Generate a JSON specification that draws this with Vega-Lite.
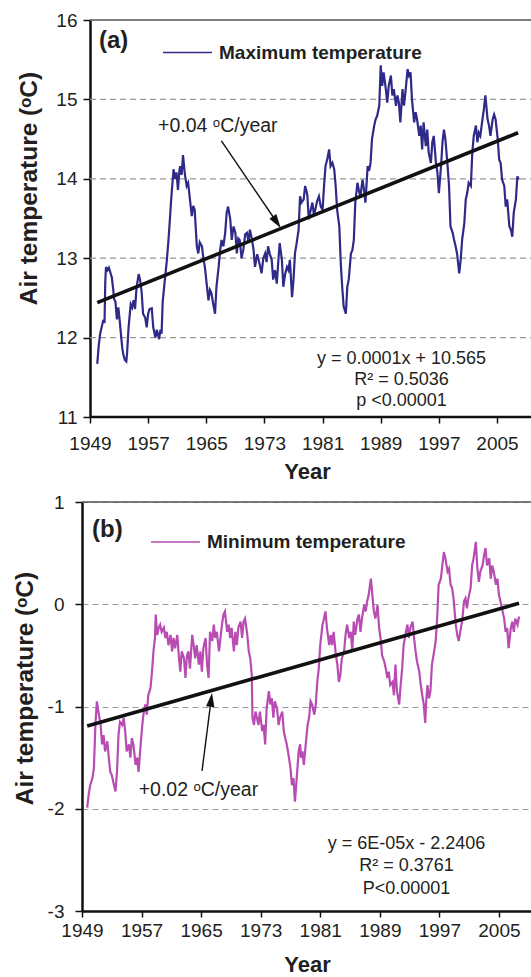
{
  "$schema": "https://vega.github.io/schema/vega-lite/v6.json",
  "background": "white",
  "padding": {"left": 12, "top": 11, "right": 0, "bottom": 0},
  "columns": 1,
  "spacing": 11,
  "resolve": {"scale": {"color": "independent"}, "legend": {"color": "independent"}},
  "config": {
    "font": "Liberation Sans",
    "view": {"stroke": null},
    "axis": {
      "domainColor": "#111111",
      "domainWidth": 2.5,
      "tickColor": "#111111",
      "tickWidth": 1.5,
      "labelFont": "Liberation Sans",
      "labelFontSize": 19,
      "labelColor": "#231f20",
      "labelOverlap": false,
      "labelFlush": false,
      "titleFont": "Liberation Sans",
      "titleFontWeight": "bold",
      "titleColor": "#231f20",
      "gridColor": "#9a9a9a",
      "gridDash": [6, 4],
      "gridWidth": 1.2
    },
    "axisX": {"grid": false},
    "legend": {
      "orient": "none",
      "title": null,
      "padding": 0,
      "symbolType": "stroke",
      "symbolSize": 2401,
      "symbolStrokeWidth": 1.6,
      "labelFont": "Liberation Sans",
      "labelFontSize": 19,
      "labelFontWeight": "bold",
      "labelColor": "#231f20",
      "labelLimit": 400,
      "labelOffset": 6
    }
  },
  "datasets": {
    "tmax": [
      {"year": 1950.0, "temp": 11.67}, {"year": 1950.2, "temp": 11.9}, {"year": 1950.4, "temp": 12.05}, {"year": 1950.6, "temp": 12.13},
      {"year": 1950.8, "temp": 12.21}, {"year": 1951.0, "temp": 12.2}, {"year": 1951.1, "temp": 12.7}, {"year": 1951.2, "temp": 12.89},
      {"year": 1951.4, "temp": 12.85}, {"year": 1951.6, "temp": 12.88}, {"year": 1951.8, "temp": 12.82}, {"year": 1952.0, "temp": 12.76},
      {"year": 1952.2, "temp": 12.6}, {"year": 1952.3, "temp": 12.49}, {"year": 1952.5, "temp": 12.45}, {"year": 1952.7, "temp": 12.23},
      {"year": 1952.9, "temp": 12.38}, {"year": 1953.1, "temp": 12.2}, {"year": 1953.3, "temp": 12.0}, {"year": 1953.45, "temp": 11.86},
      {"year": 1953.6, "temp": 11.78}, {"year": 1953.8, "temp": 11.72}, {"year": 1954.0, "temp": 11.7}, {"year": 1954.1, "temp": 11.8},
      {"year": 1954.3, "temp": 12.12}, {"year": 1954.6, "temp": 12.42}, {"year": 1954.8, "temp": 12.38}, {"year": 1955.0, "temp": 12.47},
      {"year": 1955.2, "temp": 12.36}, {"year": 1955.4, "temp": 12.63}, {"year": 1955.7, "temp": 12.8}, {"year": 1955.9, "temp": 12.72},
      {"year": 1956.1, "temp": 12.58}, {"year": 1956.3, "temp": 12.3}, {"year": 1956.6, "temp": 12.25}, {"year": 1956.8, "temp": 12.13},
      {"year": 1957.0, "temp": 12.3}, {"year": 1957.2, "temp": 12.36}, {"year": 1957.5, "temp": 12.37}, {"year": 1957.7, "temp": 12.13},
      {"year": 1958.0, "temp": 12.0}, {"year": 1958.2, "temp": 12.1}, {"year": 1958.5, "temp": 11.98}, {"year": 1958.7, "temp": 12.1},
      {"year": 1958.85, "temp": 12.05}, {"year": 1959.0, "temp": 12.45}, {"year": 1959.3, "temp": 12.73}, {"year": 1959.55, "temp": 12.95},
      {"year": 1959.8, "temp": 13.23}, {"year": 1960.0, "temp": 13.5}, {"year": 1960.2, "temp": 13.78}, {"year": 1960.5, "temp": 14.12},
      {"year": 1960.7, "temp": 14.0}, {"year": 1960.9, "temp": 14.08}, {"year": 1961.1, "temp": 13.86}, {"year": 1961.3, "temp": 14.1},
      {"year": 1961.4, "temp": 14.16}, {"year": 1961.6, "temp": 14.05}, {"year": 1961.8, "temp": 14.3}, {"year": 1962.0, "temp": 14.1},
      {"year": 1962.1, "temp": 14.03}, {"year": 1962.3, "temp": 13.91}, {"year": 1962.5, "temp": 13.95}, {"year": 1962.8, "temp": 13.7},
      {"year": 1963.0, "temp": 13.53}, {"year": 1963.2, "temp": 13.66}, {"year": 1963.4, "temp": 13.61}, {"year": 1963.7, "temp": 13.15},
      {"year": 1963.9, "temp": 13.06}, {"year": 1964.1, "temp": 13.2}, {"year": 1964.4, "temp": 13.15}, {"year": 1964.6, "temp": 13.0},
      {"year": 1964.8, "temp": 12.89}, {"year": 1965.1, "temp": 12.64}, {"year": 1965.3, "temp": 12.47}, {"year": 1965.5, "temp": 12.6},
      {"year": 1965.7, "temp": 12.56}, {"year": 1966.0, "temp": 12.4}, {"year": 1966.2, "temp": 12.3}, {"year": 1966.4, "temp": 12.64},
      {"year": 1966.7, "temp": 12.89}, {"year": 1966.9, "temp": 13.1}, {"year": 1967.1, "temp": 13.23}, {"year": 1967.35, "temp": 13.15},
      {"year": 1967.6, "temp": 13.32}, {"year": 1967.8, "temp": 13.57}, {"year": 1968.0, "temp": 13.65}, {"year": 1968.3, "temp": 13.49},
      {"year": 1968.5, "temp": 13.23}, {"year": 1968.75, "temp": 13.4}, {"year": 1969.0, "temp": 13.32}, {"year": 1969.2, "temp": 13.06},
      {"year": 1969.4, "temp": 13.25}, {"year": 1969.6, "temp": 13.23}, {"year": 1969.85, "temp": 13.0}, {"year": 1970.1, "temp": 13.11},
      {"year": 1970.35, "temp": 13.3}, {"year": 1970.6, "temp": 13.32}, {"year": 1970.8, "temp": 13.2}, {"year": 1971.0, "temp": 13.36},
      {"year": 1971.25, "temp": 13.25}, {"year": 1971.5, "temp": 13.11}, {"year": 1971.7, "temp": 12.89}, {"year": 1972.0, "temp": 13.05},
      {"year": 1972.2, "temp": 12.98}, {"year": 1972.4, "temp": 12.9}, {"year": 1972.6, "temp": 12.81}, {"year": 1972.85, "temp": 13.0},
      {"year": 1973.1, "temp": 13.06}, {"year": 1973.3, "temp": 12.95}, {"year": 1973.5, "temp": 13.15}, {"year": 1973.75, "temp": 13.05},
      {"year": 1974.0, "temp": 12.98}, {"year": 1974.2, "temp": 12.73}, {"year": 1974.45, "temp": 12.85}, {"year": 1974.7, "temp": 12.68},
      {"year": 1974.9, "temp": 12.95}, {"year": 1975.1, "temp": 13.19}, {"year": 1975.4, "temp": 12.98}, {"year": 1975.6, "temp": 12.64},
      {"year": 1975.85, "temp": 12.8}, {"year": 1976.1, "temp": 12.89}, {"year": 1976.3, "temp": 12.85}, {"year": 1976.5, "temp": 12.98},
      {"year": 1976.8, "temp": 12.51}, {"year": 1977.0, "temp": 12.73}, {"year": 1977.2, "temp": 13.06}, {"year": 1977.45, "temp": 13.2},
      {"year": 1977.7, "temp": 13.36}, {"year": 1977.9, "temp": 13.78}, {"year": 1978.1, "temp": 13.7}, {"year": 1978.4, "temp": 13.74},
      {"year": 1978.6, "temp": 13.91}, {"year": 1978.9, "temp": 13.8}, {"year": 1979.1, "temp": 13.49}, {"year": 1979.35, "temp": 13.6},
      {"year": 1979.6, "temp": 13.7}, {"year": 1979.8, "temp": 13.55}, {"year": 1980.0, "temp": 13.61}, {"year": 1980.25, "temp": 13.72},
      {"year": 1980.5, "temp": 13.78}, {"year": 1980.75, "temp": 13.65}, {"year": 1981.0, "temp": 13.61}, {"year": 1981.2, "temp": 13.91},
      {"year": 1981.4, "temp": 14.16}, {"year": 1981.65, "temp": 14.25}, {"year": 1981.9, "temp": 14.37}, {"year": 1982.1, "temp": 14.16},
      {"year": 1982.35, "temp": 14.2}, {"year": 1982.6, "temp": 14.12}, {"year": 1982.8, "temp": 13.91}, {"year": 1983.0, "temp": 13.61},
      {"year": 1983.3, "temp": 13.4}, {"year": 1983.5, "temp": 12.94}, {"year": 1983.7, "temp": 12.64}, {"year": 1983.9, "temp": 12.39},
      {"year": 1984.2, "temp": 12.3}, {"year": 1984.4, "temp": 12.64}, {"year": 1984.6, "temp": 12.73}, {"year": 1984.9, "temp": 13.06},
      {"year": 1985.1, "temp": 13.1}, {"year": 1985.3, "temp": 13.23}, {"year": 1985.5, "temp": 13.7}, {"year": 1985.8, "temp": 13.95},
      {"year": 1986.0, "temp": 13.85}, {"year": 1986.2, "temp": 13.78}, {"year": 1986.5, "temp": 13.99}, {"year": 1986.7, "temp": 13.86},
      {"year": 1986.9, "temp": 13.7}, {"year": 1987.2, "temp": 14.16}, {"year": 1987.4, "temp": 14.1}, {"year": 1987.6, "temp": 14.2},
      {"year": 1987.8, "temp": 14.5}, {"year": 1988.1, "temp": 14.67}, {"year": 1988.3, "temp": 14.75}, {"year": 1988.5, "temp": 14.79},
      {"year": 1988.8, "temp": 14.92}, {"year": 1989.0, "temp": 15.43}, {"year": 1989.2, "temp": 15.17}, {"year": 1989.4, "temp": 15.34},
      {"year": 1989.7, "temp": 15.13}, {"year": 1989.9, "temp": 14.96}, {"year": 1990.1, "temp": 15.17}, {"year": 1990.4, "temp": 15.3},
      {"year": 1990.6, "temp": 15.05}, {"year": 1990.8, "temp": 15.13}, {"year": 1991.1, "temp": 14.92}, {"year": 1991.3, "temp": 15.05},
      {"year": 1991.5, "temp": 14.96}, {"year": 1991.7, "temp": 14.71}, {"year": 1992.0, "temp": 15.13}, {"year": 1992.2, "temp": 14.92},
      {"year": 1992.4, "temp": 15.09}, {"year": 1992.7, "temp": 15.38}, {"year": 1992.9, "temp": 15.3}, {"year": 1993.1, "temp": 15.34},
      {"year": 1993.3, "temp": 15.0}, {"year": 1993.6, "temp": 14.71}, {"year": 1993.8, "temp": 14.84}, {"year": 1994.0, "temp": 14.75},
      {"year": 1994.3, "temp": 14.54}, {"year": 1994.5, "temp": 14.67}, {"year": 1994.7, "temp": 14.37}, {"year": 1994.9, "temp": 14.71},
      {"year": 1995.2, "temp": 14.41}, {"year": 1995.4, "temp": 14.62}, {"year": 1995.6, "temp": 14.33}, {"year": 1995.9, "temp": 14.2},
      {"year": 1996.1, "temp": 14.46}, {"year": 1996.3, "temp": 14.54}, {"year": 1996.6, "temp": 14.2}, {"year": 1996.8, "temp": 14.08},
      {"year": 1997.0, "temp": 13.82}, {"year": 1997.3, "temp": 14.16}, {"year": 1997.5, "temp": 14.46}, {"year": 1997.7, "temp": 14.62},
      {"year": 1997.9, "temp": 14.5}, {"year": 1998.2, "temp": 14.16}, {"year": 1998.4, "temp": 13.91}, {"year": 1998.6, "temp": 13.4},
      {"year": 1998.9, "temp": 13.32}, {"year": 1999.1, "temp": 13.23}, {"year": 1999.3, "temp": 13.15}, {"year": 1999.5, "temp": 13.06},
      {"year": 1999.8, "temp": 12.81}, {"year": 2000.0, "temp": 12.98}, {"year": 2000.2, "temp": 13.23}, {"year": 2000.5, "temp": 13.44},
      {"year": 2000.7, "temp": 13.74}, {"year": 2000.9, "temp": 13.82}, {"year": 2001.1, "temp": 13.95}, {"year": 2001.4, "temp": 13.91},
      {"year": 2001.6, "temp": 14.33}, {"year": 2001.8, "temp": 14.54}, {"year": 2002.1, "temp": 14.67}, {"year": 2002.3, "temp": 14.46},
      {"year": 2002.5, "temp": 14.58}, {"year": 2002.7, "temp": 14.54}, {"year": 2003.0, "temp": 14.75}, {"year": 2003.2, "temp": 14.88},
      {"year": 2003.4, "temp": 15.05}, {"year": 2003.7, "temp": 14.75}, {"year": 2003.9, "temp": 14.67}, {"year": 2004.1, "temp": 14.54},
      {"year": 2004.4, "temp": 14.75}, {"year": 2004.6, "temp": 14.81}, {"year": 2004.8, "temp": 14.75}, {"year": 2005.1, "temp": 14.5},
      {"year": 2005.3, "temp": 14.24}, {"year": 2005.5, "temp": 14.2}, {"year": 2005.7, "temp": 13.99}, {"year": 2006.0, "temp": 13.91},
      {"year": 2006.2, "temp": 13.65}, {"year": 2006.4, "temp": 13.74}, {"year": 2006.7, "temp": 13.4}, {"year": 2006.9, "temp": 13.36},
      {"year": 2007.1, "temp": 13.27}, {"year": 2007.3, "temp": 13.57}, {"year": 2007.6, "temp": 13.74}, {"year": 2007.8, "temp": 14.03},
      {"year": 2008.0, "temp": 13.99}
    ],
    "tmin": [
      {"year": 1949.7, "temp": -1.99}, {"year": 1949.9, "temp": -1.86}, {"year": 1950.1, "temp": -1.77}, {"year": 1950.4, "temp": -1.7},
      {"year": 1950.6, "temp": -1.6}, {"year": 1950.8, "temp": -1.18}, {"year": 1951.0, "temp": -0.95}, {"year": 1951.2, "temp": -1.05},
      {"year": 1951.5, "temp": -1.18}, {"year": 1951.7, "temp": -1.37}, {"year": 1951.9, "temp": -1.28}, {"year": 1952.1, "temp": -1.44},
      {"year": 1952.4, "temp": -1.34}, {"year": 1952.6, "temp": -1.5}, {"year": 1952.8, "temp": -1.64}, {"year": 1953.0, "temp": -1.67},
      {"year": 1953.3, "temp": -1.77}, {"year": 1953.5, "temp": -1.83}, {"year": 1953.7, "temp": -1.64}, {"year": 1953.9, "temp": -1.28},
      {"year": 1954.1, "temp": -1.15}, {"year": 1954.4, "temp": -1.18}, {"year": 1954.6, "temp": -1.11}, {"year": 1954.8, "temp": -1.24},
      {"year": 1955.0, "temp": -1.44}, {"year": 1955.3, "temp": -1.37}, {"year": 1955.5, "temp": -1.5}, {"year": 1955.7, "temp": -1.31},
      {"year": 1955.9, "temp": -1.37}, {"year": 1956.2, "temp": -1.57}, {"year": 1956.4, "temp": -1.5}, {"year": 1956.6, "temp": -1.64},
      {"year": 1956.8, "temp": -1.44}, {"year": 1957.1, "temp": -1.18}, {"year": 1957.3, "temp": -1.05}, {"year": 1957.5, "temp": -0.98},
      {"year": 1957.7, "temp": -1.08}, {"year": 1957.9, "temp": -0.89}, {"year": 1958.2, "temp": -0.82}, {"year": 1958.4, "temp": -0.66},
      {"year": 1958.6, "temp": -0.46}, {"year": 1958.8, "temp": -0.33}, {"year": 1958.9, "temp": -0.1}, {"year": 1959.1, "temp": -0.3},
      {"year": 1959.3, "temp": -0.23}, {"year": 1959.5, "temp": -0.2}, {"year": 1959.7, "temp": -0.27}, {"year": 1960.0, "temp": -0.23},
      {"year": 1960.2, "temp": -0.33}, {"year": 1960.4, "temp": -0.27}, {"year": 1960.6, "temp": -0.4}, {"year": 1960.9, "temp": -0.3},
      {"year": 1961.1, "temp": -0.46}, {"year": 1961.3, "temp": -0.33}, {"year": 1961.5, "temp": -0.43}, {"year": 1961.8, "temp": -0.3},
      {"year": 1962.0, "temp": -0.5}, {"year": 1962.2, "temp": -0.66}, {"year": 1962.4, "temp": -0.46}, {"year": 1962.7, "temp": -0.53},
      {"year": 1962.9, "temp": -0.72}, {"year": 1963.1, "temp": -0.5}, {"year": 1963.3, "temp": -0.46}, {"year": 1963.5, "temp": -0.63},
      {"year": 1963.8, "temp": -0.3}, {"year": 1964.0, "temp": -0.4}, {"year": 1964.2, "temp": -0.53}, {"year": 1964.4, "temp": -0.4},
      {"year": 1964.7, "temp": -0.59}, {"year": 1964.9, "temp": -0.46}, {"year": 1965.1, "temp": -0.66}, {"year": 1965.3, "temp": -0.43},
      {"year": 1965.6, "temp": -0.33}, {"year": 1965.8, "temp": -0.59}, {"year": 1966.0, "temp": -0.72}, {"year": 1966.2, "temp": -0.27},
      {"year": 1966.5, "temp": -0.36}, {"year": 1966.7, "temp": -0.2}, {"year": 1966.9, "temp": -0.33}, {"year": 1967.1, "temp": -0.27},
      {"year": 1967.4, "temp": -0.46}, {"year": 1967.6, "temp": -0.33}, {"year": 1967.8, "temp": -0.2}, {"year": 1968.0, "temp": -0.1},
      {"year": 1968.2, "temp": -0.07}, {"year": 1968.5, "temp": -0.27}, {"year": 1968.7, "temp": -0.2}, {"year": 1968.9, "temp": -0.33},
      {"year": 1969.1, "temp": -0.23}, {"year": 1969.4, "temp": -0.46}, {"year": 1969.6, "temp": -0.27}, {"year": 1969.8, "temp": -0.4},
      {"year": 1970.0, "temp": -0.23}, {"year": 1970.3, "temp": -0.17}, {"year": 1970.5, "temp": -0.33}, {"year": 1970.7, "temp": -0.17},
      {"year": 1970.9, "temp": -0.14}, {"year": 1971.2, "temp": -0.3}, {"year": 1971.4, "temp": -0.46}, {"year": 1971.6, "temp": -0.53},
      {"year": 1971.8, "temp": -0.69}, {"year": 1971.9, "temp": -1.11}, {"year": 1972.1, "temp": -1.18}, {"year": 1972.3, "temp": -1.05},
      {"year": 1972.5, "temp": -1.11}, {"year": 1972.7, "temp": -1.18}, {"year": 1972.9, "temp": -1.05}, {"year": 1973.2, "temp": -1.24},
      {"year": 1973.4, "temp": -1.18}, {"year": 1973.6, "temp": -1.37}, {"year": 1973.8, "temp": -1.02}, {"year": 1974.1, "temp": -0.85},
      {"year": 1974.3, "temp": -0.98}, {"year": 1974.5, "temp": -0.92}, {"year": 1974.7, "temp": -1.11}, {"year": 1974.9, "temp": -0.95},
      {"year": 1975.2, "temp": -1.02}, {"year": 1975.4, "temp": -1.18}, {"year": 1975.6, "temp": -1.11}, {"year": 1975.9, "temp": -1.05},
      {"year": 1976.1, "temp": -1.24}, {"year": 1976.3, "temp": -1.31}, {"year": 1976.5, "temp": -1.37}, {"year": 1976.8, "temp": -1.5},
      {"year": 1977.0, "temp": -1.6}, {"year": 1977.2, "temp": -1.77}, {"year": 1977.4, "temp": -1.7}, {"year": 1977.6, "temp": -1.93},
      {"year": 1977.9, "temp": -1.64}, {"year": 1978.1, "temp": -1.44}, {"year": 1978.3, "temp": -1.37}, {"year": 1978.4, "temp": -1.5},
      {"year": 1978.6, "temp": -1.44}, {"year": 1978.8, "temp": -1.57}, {"year": 1979.0, "temp": -1.41}, {"year": 1979.3, "temp": -1.18},
      {"year": 1979.5, "temp": -1.11}, {"year": 1979.7, "temp": -0.95}, {"year": 1979.9, "temp": -0.98}, {"year": 1980.2, "temp": -1.08},
      {"year": 1980.4, "temp": -0.98}, {"year": 1980.6, "temp": -0.76}, {"year": 1980.8, "temp": -0.63}, {"year": 1981.0, "temp": -0.4},
      {"year": 1981.3, "temp": -0.2}, {"year": 1981.5, "temp": -0.14}, {"year": 1981.7, "temp": -0.07}, {"year": 1981.9, "temp": -0.23},
      {"year": 1982.2, "temp": -0.4}, {"year": 1982.4, "temp": -0.3}, {"year": 1982.6, "temp": -0.4}, {"year": 1982.8, "temp": -0.27},
      {"year": 1983.1, "temp": -0.5}, {"year": 1983.3, "temp": -0.59}, {"year": 1983.5, "temp": -0.76}, {"year": 1983.7, "temp": -0.69},
      {"year": 1983.9, "temp": -0.53}, {"year": 1984.2, "temp": -0.46}, {"year": 1984.4, "temp": -0.3}, {"year": 1984.6, "temp": -0.2},
      {"year": 1984.9, "temp": -0.33}, {"year": 1985.1, "temp": -0.27}, {"year": 1985.3, "temp": -0.46}, {"year": 1985.5, "temp": -0.17},
      {"year": 1985.7, "temp": -0.3}, {"year": 1986.0, "temp": -0.14}, {"year": 1986.2, "temp": -0.1}, {"year": 1986.4, "temp": -0.27},
      {"year": 1986.6, "temp": -0.14}, {"year": 1986.9, "temp": -0.01}, {"year": 1987.1, "temp": -0.07}, {"year": 1987.3, "temp": 0.03},
      {"year": 1987.5, "temp": 0.09}, {"year": 1987.8, "temp": 0.25}, {"year": 1988.0, "temp": 0.09}, {"year": 1988.2, "temp": -0.07},
      {"year": 1988.4, "temp": -0.14}, {"year": 1988.7, "temp": -0.01}, {"year": 1988.9, "temp": -0.23}, {"year": 1989.1, "temp": -0.33},
      {"year": 1989.3, "temp": -0.5}, {"year": 1989.6, "temp": -0.56}, {"year": 1989.8, "temp": -0.63}, {"year": 1990.0, "temp": -0.72},
      {"year": 1990.2, "temp": -0.66}, {"year": 1990.4, "temp": -0.79}, {"year": 1990.7, "temp": -0.76}, {"year": 1990.9, "temp": -0.89},
      {"year": 1991.1, "temp": -0.59}, {"year": 1991.3, "temp": -0.85}, {"year": 1991.6, "temp": -0.98}, {"year": 1991.8, "temp": -0.79},
      {"year": 1992.0, "temp": -0.63}, {"year": 1992.2, "temp": -0.4}, {"year": 1992.5, "temp": -0.27}, {"year": 1992.7, "temp": -0.2},
      {"year": 1992.9, "temp": -0.33}, {"year": 1993.1, "temp": -0.23}, {"year": 1993.4, "temp": -0.17}, {"year": 1993.6, "temp": -0.33},
      {"year": 1993.8, "temp": -0.46}, {"year": 1994.0, "temp": -0.56}, {"year": 1994.3, "temp": -0.66}, {"year": 1994.5, "temp": -0.79},
      {"year": 1994.7, "temp": -0.89}, {"year": 1994.9, "temp": -0.98}, {"year": 1995.1, "temp": -1.16}, {"year": 1995.2, "temp": -0.98},
      {"year": 1995.4, "temp": -0.79}, {"year": 1995.6, "temp": -0.92}, {"year": 1995.8, "temp": -0.85}, {"year": 1996.0, "temp": -0.59},
      {"year": 1996.3, "temp": -0.46}, {"year": 1996.5, "temp": -0.36}, {"year": 1996.7, "temp": -0.14}, {"year": 1996.9, "temp": 0.19},
      {"year": 1997.2, "temp": 0.25}, {"year": 1997.4, "temp": 0.38}, {"year": 1997.6, "temp": 0.51}, {"year": 1997.8, "temp": 0.45},
      {"year": 1998.1, "temp": 0.32}, {"year": 1998.3, "temp": 0.35}, {"year": 1998.5, "temp": 0.19}, {"year": 1998.7, "temp": 0.16},
      {"year": 1998.9, "temp": 0.06}, {"year": 1999.2, "temp": -0.2}, {"year": 1999.4, "temp": -0.3}, {"year": 1999.6, "temp": -0.36},
      {"year": 1999.8, "temp": -0.27}, {"year": 2000.1, "temp": -0.14}, {"year": 2000.3, "temp": 0.03}, {"year": 2000.5, "temp": 0.06},
      {"year": 2000.7, "temp": -0.04}, {"year": 2000.9, "temp": 0.06}, {"year": 2001.2, "temp": 0.16}, {"year": 2001.4, "temp": 0.38},
      {"year": 2001.6, "temp": 0.45}, {"year": 2001.9, "temp": 0.61}, {"year": 2002.1, "temp": 0.35}, {"year": 2002.3, "temp": 0.22},
      {"year": 2002.5, "temp": 0.32}, {"year": 2002.8, "temp": 0.38}, {"year": 2003.0, "temp": 0.48}, {"year": 2003.2, "temp": 0.55},
      {"year": 2003.4, "temp": 0.38}, {"year": 2003.7, "temp": 0.45}, {"year": 2003.9, "temp": 0.25}, {"year": 2004.1, "temp": 0.38},
      {"year": 2004.3, "temp": 0.32}, {"year": 2004.6, "temp": 0.19}, {"year": 2004.8, "temp": 0.25}, {"year": 2005.0, "temp": 0.09},
      {"year": 2005.2, "temp": 0.03}, {"year": 2005.4, "temp": -0.04}, {"year": 2005.7, "temp": -0.14}, {"year": 2005.9, "temp": -0.27},
      {"year": 2006.1, "temp": -0.23}, {"year": 2006.3, "temp": -0.43}, {"year": 2006.6, "temp": -0.23}, {"year": 2006.8, "temp": -0.17},
      {"year": 2007.0, "temp": -0.27}, {"year": 2007.2, "temp": -0.14}, {"year": 2007.5, "temp": -0.2}, {"year": 2007.7, "temp": -0.12}
    ],
    "trendMax": [{"year": 1950.0, "temp": 12.44}, {"year": 2007.9, "temp": 14.58}],
    "trendMin": [{"year": 1949.7, "temp": -1.19}, {"year": 2007.7, "temp": 0.01}],
    "gridMax": [{"temp": 12}, {"temp": 13}, {"temp": 14}, {"temp": 15}]
  },
  "concat": [
    {
      "width": 450,
      "height": 397,
      "layer": [
        {
          "data": {"name": "gridMax"},
          "mark": {"type": "rule", "color": "#9a9a9a", "strokeWidth": 1.2, "strokeDash": [6, 4]},
          "encoding": {
            "y": {"field": "temp", "type": "quantitative"},
            "x": {"datum": 1949, "type": "quantitative"},
            "x2": {"datum": 2009.814}
          }
        },
        {
          "data": {"name": "tmax"},
          "mark": {"type": "line", "strokeWidth": 2.2},
          "encoding": {
            "x": {
              "field": "year", "type": "quantitative",
              "scale": {"domain": [1947.899, 2009.814], "nice": false, "zero": false},
              "axis": {
                "values": [1949, 1957, 1965, 1973, 1981, 1989, 1997, 2005], "format": "d",
                "domain": false,
                "tickSize": 6, "labelPadding": 11,
                "title": "Year", "titleFontSize": 22, "titlePadding": 8
              }
            },
            "y": {
              "field": "temp", "type": "quantitative",
              "scale": {"domain": [11, 16], "nice": false, "zero": false},
              "axis": {
                "values": [11, 12, 13, 14, 15, 16], "format": "d", "grid": false, "offset": -8,
                "tickSize": 7, "labelPadding": 6,
                "title": "Air temperature  (ᵒC)", "titleFontSize": 24.5,
                "titleX": -54, "titleY": 168, "titleAngle": -90, "titleAlign": "center", "titleBaseline": "alphabetic"
              }
            },
            "color": {
              "datum": "Maximum temperature", "type": "nominal",
              "scale": {"range": ["#2f2a87"]},
              "legend": {"legendX": 80, "legendY": 7}
            }
          }
        },
        {
          "data": {"values": [{}]},
          "mark": {"type": "rule", "color": "#555555", "strokeWidth": 1.5},
          "encoding": {"y": {"datum": 16, "type": "quantitative"}, "x": {"datum": 1949, "type": "quantitative"}, "x2": {"datum": 2009.814}}
        },
        {
          "data": {"values": [{}]},
          "mark": {"type": "rule", "color": "#111111", "strokeWidth": 2.5},
          "encoding": {"y": {"datum": 11, "type": "quantitative"}, "x": {"datum": 1949, "type": "quantitative"}, "x2": {"datum": 2009.814}}
        },
        {
          "data": {"name": "trendMax"},
          "mark": {"type": "line", "color": "#111111", "strokeWidth": 3.6},
          "encoding": {
            "x": {"field": "year", "type": "quantitative"},
            "y": {"field": "temp", "type": "quantitative"}
          }
        },
        {
          "data": {"values": [{}]},
          "mark": {"type": "rule", "color": "#111111", "strokeWidth": 1.4},
          "encoding": {
            "x": {"datum": 1967.08, "type": "quantitative"}, "y": {"datum": 14.477, "type": "quantitative"},
            "x2": {"datum": 1974.7}, "y2": {"datum": 13.453}
          }
        },
        {
          "data": {"values": [{}]},
          "mark": {"type": "point", "shape": "M0,-1L0.6,1L-0.6,1Z", "filled": true, "color": "#111111", "opacity": 1, "size": 196, "angle": 145.9},
          "encoding": {"x": {"datum": 1974.7, "type": "quantitative"}, "y": {"datum": 13.453, "type": "quantitative"}}
        },
        {
          "data": {"values": [{}]},
          "mark": {"type": "text", "text": "(a)", "fontSize": 24, "fontWeight": "bold", "align": "left", "baseline": "middle", "color": "#231f20"},
          "encoding": {"x": {"datum": 1950.24, "type": "quantitative"}, "y": {"datum": 15.74, "type": "quantitative"}}
        },
        {
          "data": {"values": [{}]},
          "mark": {"type": "text", "text": "+0.04 ᵒC/year", "fontSize": 19.5, "align": "left", "baseline": "middle", "color": "#231f20"},
          "encoding": {"x": {"datum": 1958.36, "type": "quantitative"}, "y": {"datum": 14.66, "type": "quantitative"}}
        },
        {
          "data": {"values": [{}]},
          "mark": {"type": "text", "text": ["y = 0.0001x + 10.565", "R² = 0.5036", "p <0.00001"], "fontSize": 18, "lineHeight": 21, "align": "center", "baseline": "top", "color": "#231f20"},
          "encoding": {"x": {"datum": 1991.86, "type": "quantitative"}, "y": {"datum": 11.838, "type": "quantitative"}}
        }
      ]
    },
    {
      "width": 450,
      "height": 409,
      "layer": [
        {
          "data": {"name": "tmin"},
          "mark": {"type": "line", "strokeWidth": 2.2},
          "encoding": {
            "x": {
              "field": "year", "type": "quantitative",
              "scale": {"domain": [1949, 2009.44], "nice": false, "zero": false},
              "axis": {
                "values": [1949, 1957, 1965, 1973, 1981, 1989, 1997, 2005], "format": "d",
                "tickSize": 6, "labelPadding": 4,
                "title": "Year", "titleFontSize": 22, "titlePadding": 14
              }
            },
            "y": {
              "field": "temp", "type": "quantitative",
              "scale": {"domain": [-3, 1], "nice": false, "zero": false},
              "axis": {
                "values": [-3, -2, -1, 0, 1], "grid": true, "labelExpr": "'' + datum.value",
                "tickSize": 7, "labelPadding": 11,
                "title": "Air temperature  (ᵒC)", "titleFontSize": 24.5,
                "titleX": -50, "titleY": 186, "titleAngle": -90, "titleAlign": "center", "titleBaseline": "alphabetic"
              }
            },
            "color": {
              "datum": "Minimum temperature", "type": "nominal",
              "scale": {"range": ["#b84cb2"]},
              "legend": {"legendX": 68, "legendY": 14.5}
            }
          }
        },
        {
          "data": {"values": [{}]},
          "mark": {"type": "rule", "color": "#555555", "strokeWidth": 1.5},
          "encoding": {"y": {"datum": 1, "type": "quantitative"}}
        },
        {
          "data": {"name": "trendMin"},
          "mark": {"type": "line", "color": "#111111", "strokeWidth": 3.6},
          "encoding": {
            "x": {"field": "year", "type": "quantitative"},
            "y": {"field": "temp", "type": "quantitative"}
          }
        },
        {
          "data": {"values": [{}]},
          "mark": {"type": "rule", "color": "#111111", "strokeWidth": 1.4},
          "encoding": {
            "x": {"datum": 1965.12, "type": "quantitative"}, "y": {"datum": -1.631, "type": "quantitative"},
            "x2": {"datum": 1966.34}, "y2": {"datum": -0.935}
          }
        },
        {
          "data": {"values": [{}]},
          "mark": {"type": "point", "shape": "M0,-1L0.6,1L-0.6,1Z", "filled": true, "color": "#111111", "opacity": 1, "size": 196, "angle": 7.3},
          "encoding": {"x": {"datum": 1966.34, "type": "quantitative"}, "y": {"datum": -0.935, "type": "quantitative"}}
        },
        {
          "data": {"values": [{}]},
          "mark": {"type": "text", "text": "(b)", "fontSize": 24, "fontWeight": "bold", "align": "left", "baseline": "middle", "color": "#231f20"},
          "encoding": {"x": {"datum": 1950.34, "type": "quantitative"}, "y": {"datum": 0.726, "type": "quantitative"}}
        },
        {
          "data": {"values": [{}]},
          "mark": {"type": "text", "text": "+0.02 ᵒC/year", "fontSize": 19.5, "align": "left", "baseline": "middle", "color": "#231f20"},
          "encoding": {"x": {"datum": 1956.61, "type": "quantitative"}, "y": {"datum": -1.817, "type": "quantitative"}}
        },
        {
          "data": {"values": [{}]},
          "mark": {"type": "text", "text": ["y = 6E-05x - 2.2406", "R² = 0.3761", "P<0.00001"], "fontSize": 18, "lineHeight": 22.5, "align": "center", "baseline": "top", "color": "#231f20"},
          "encoding": {"x": {"datum": 1992.58, "type": "quantitative"}, "y": {"datum": -2.252, "type": "quantitative"}}
        }
      ]
    }
  ]
}
